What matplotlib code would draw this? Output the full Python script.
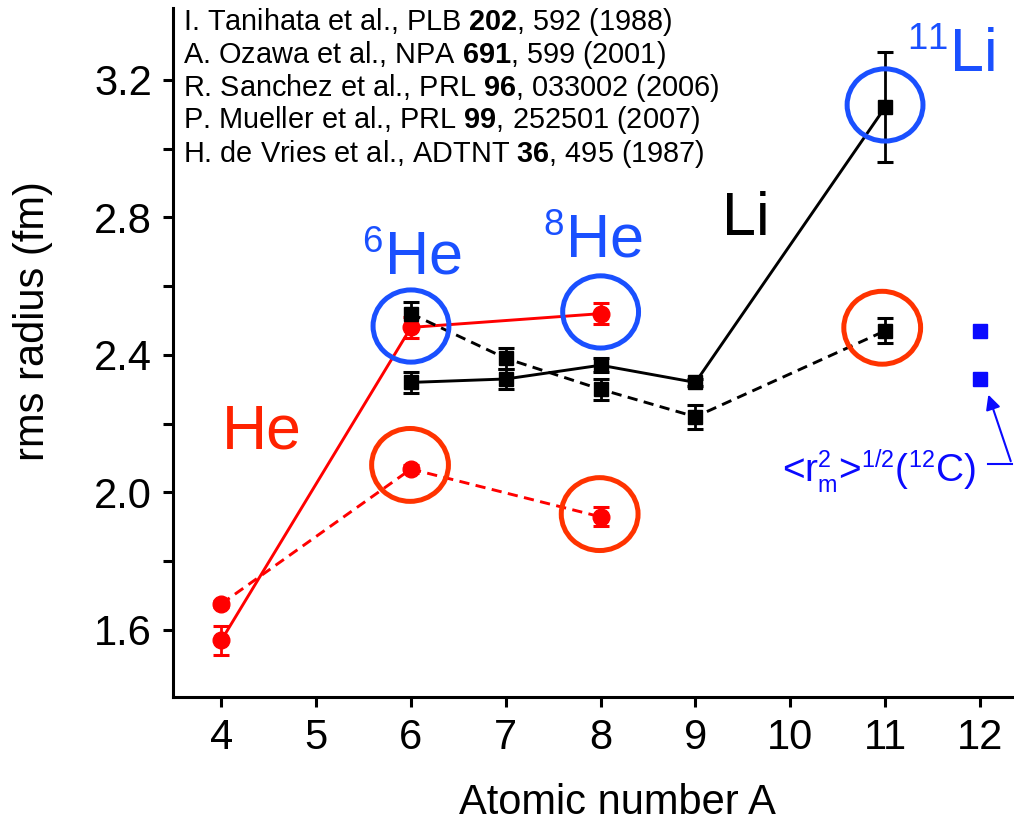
import matplotlib
matplotlib.use("Agg")
import matplotlib.pyplot as plt
from matplotlib.patches import Ellipse
try:
    import matplotlib._mathtext as _mt
    _mt.SHRINK_FACTOR = 0.6
except Exception:
    pass

plt.rcParams['font.family'] = ['Liberation Sans', 'DejaVu Sans']
plt.rcParams['mathtext.fontset'] = 'custom'
plt.rcParams['mathtext.rm'] = 'Liberation Sans'
plt.rcParams['mathtext.it'] = 'Liberation Sans:italic'
plt.rcParams['mathtext.bf'] = 'Liberation Sans:bold'

# ---------------- data ----------------
A_he = [4, 6, 8]
he_matter = [1.57, 2.48, 2.52]
he_matter_err = [0.042, 0.03, 0.03]
he_charge = [1.676, 2.068, 1.929]
he_charge_err = [0.008, 0.011, 0.028]

A_li = [6, 7, 8, 9, 11]
li_matter = [2.32, 2.33, 2.37, 2.32, 3.12]
li_matter_err = [0.03, 0.03, 0.02, 0.01, 0.16]
li_charge = [2.52, 2.39, 2.30, 2.22, 2.47]
li_charge_err = [0.035, 0.03, 0.03, 0.035, 0.036]

A_c = [12, 12]
c_radii = [2.47, 2.33]

xticks = [4, 5, 6, 7, 8, 9, 10, 11, 12]
yticks = [1.6, 2.0, 2.4, 2.8, 3.2]
yminor = [1.8, 2.2, 2.6, 3.0]

references = [
    r"I. Tanihata et al., PLB $\mathbf{202}$, 592 (1988)",
    r"A. Ozawa et al., NPA $\mathbf{691}$, 599 (2001)",
    r"R. Sanchez et al., PRL $\mathbf{96}$, 033002 (2006)",
    r"P. Mueller et al., PRL $\mathbf{99}$, 252501 (2007)",
    r"H. de Vries et al., ADTNT $\mathbf{36}$, 495 (1987)",
]

RED = '#ff0000'
ORANGE = '#ff3300'
BLUE = '#1a50ff'
PBLUE = '#0a0aff'

fig = plt.figure(figsize=(10.14, 8.25), dpi=100)
ax = fig.add_axes([173/1014, 128/825, 841/1014, 689/825])
ax.set_xlim(3.49, 12.36)
ax.set_ylim(1.405, 3.409)

ekw = dict(capsize=6, elinewidth=2, capthick=2.2, lw=2.1)
ax.errorbar(A_he, he_matter, yerr=he_matter_err, fmt='-o', color=RED, ms=12, **ekw)
ax.errorbar(A_he, he_charge, yerr=he_charge_err, fmt='o', ls=(0, (3.5, 2.2)), color=RED, ms=12, **ekw)
ax.errorbar(A_li, li_matter, yerr=li_matter_err, fmt='-s', color='black', ms=10.5, **ekw)
ax.errorbar(A_li, li_charge, yerr=li_charge_err, fmt='s', ls=(0, (3.5, 2.2)), color='black', ms=10.5, **ekw)
ax.plot(A_c, c_radii, 's', color=PBLUE, ms=10, ls='none')

# highlight circles
for (x, y) in [(6, 2.484), (8, 2.525), (11, 3.127)]:
    ax.add_patch(Ellipse((x, y), 0.80, 0.21, fill=False, ec=BLUE, lw=3.6, zorder=5))
for (x, y) in [(5.99, 2.08), (7.99, 1.937), (10.97, 2.479)]:
    ax.add_patch(Ellipse((x, y), 0.81, 0.212, fill=False, ec=ORANGE, lw=3.6, zorder=5))

# labels
ax.text(4.01, 2.176, 'He', color='#ff2200', fontsize=45, va='center', ha='left')
ax.text(5.486, 2.633, r'$^{6}$He', color=BLUE, fontsize=44, va='baseline', ha='left')
ax.text(7.393, 2.685, r'$^{8}$He', color=BLUE, fontsize=44, va='baseline', ha='left')
ax.text(9.279, 2.749, 'Li', color='black', fontsize=44, va='baseline', ha='left')
ax.text(11.229, 3.223, r'$^{11}$Li', color=BLUE, fontsize=44, va='baseline', ha='left')

ref_y = [3.369, 3.273, 3.177, 3.084, 2.985]
for t, y in zip(references, ref_y):
    ax.text(3.60, y, t, fontsize=20.8, va='center', ha='left')

ax.text(9.91, 2.03, r'<$\mathrm{r_m^2}$>$^{1/2}$($^{12}$C)', color=PBLUE, fontsize=28,
        va='baseline', ha='left')
ax.plot([12.09, 12.335], [2.083, 2.083], color=PBLUE, lw=1.5, clip_on=False)
ax.annotate('', xy=(12.08, 2.292), xytext=(12.335, 2.083),
            arrowprops=dict(arrowstyle='-|>', color=PBLUE, lw=1.5, mutation_scale=22),
            annotation_clip=False)

# axes styling
for s in ['top', 'right']:
    ax.spines[s].set_visible(False)
for s in ['left', 'bottom']:
    ax.spines[s].set_linewidth(2.2)
ax.set_xticks(xticks)
ax.set_yticks(yticks)
ax.set_yticks(yminor, minor=True)
ax.set_yticklabels([f'{v:.1f}' for v in yticks])
ax.tick_params(axis='both', which='both', direction='out', length=7, width=2.2, labelsize=30, pad=8)
ax.set_xlabel('Atomic number A', fontsize=30)
ax.set_ylabel('rms radius (fm)', fontsize=30)
ax.xaxis.set_label_coords(0.528, -0.125)
ax.yaxis.set_label_coords(-0.143, 0.546)

fig.savefig('out.png', dpi=100)
